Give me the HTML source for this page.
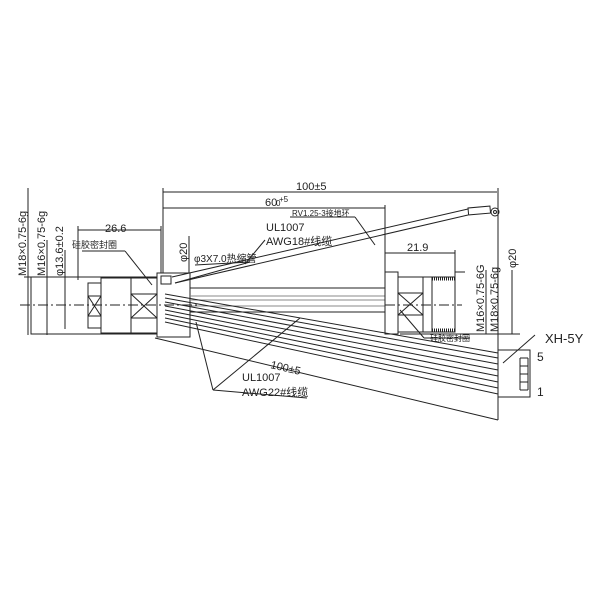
<!DOCTYPE html>
<html><head><meta charset="utf-8"><style>
body{margin:0;background:#fff}
svg{display:block}
text{font-family:"Liberation Sans","Noto Sans CJK SC",sans-serif;fill:#222}
</style></head><body>
<svg width="600" height="600" viewBox="0 0 600 600" xmlns="http://www.w3.org/2000/svg">
<g stroke="#222" stroke-width="1" fill="none">
<!-- left connector body -->
<rect x="31" y="277" width="126" height="57"/>
<line x1="47" y1="277" x2="47" y2="334"/>
<line x1="65" y1="282" x2="65" y2="329"/>
<rect x="88" y="283" width="13" height="45"/>
<line x1="88" y1="296" x2="101" y2="296"/><line x1="88" y1="316" x2="101" y2="316"/>
<line x1="88" y1="296" x2="101" y2="316"/><line x1="101" y1="296" x2="88" y2="316"/>
<rect x="101" y="278" width="30" height="55"/>
<rect x="131" y="278" width="26" height="55"/>
<line x1="131" y1="294" x2="157" y2="294"/><line x1="131" y1="318" x2="157" y2="318"/>
<line x1="131" y1="294" x2="157" y2="318"/><line x1="157" y1="294" x2="131" y2="318"/>
<rect x="157" y="273" width="33" height="64"/>
<line x1="20" y1="305" x2="200" y2="305" stroke-dasharray="10,3,2,3"/>
<rect x="161" y="276" width="10" height="8"/>
<!-- left dims -->
<line x1="28" y1="188" x2="28" y2="335"/>
<line x1="47" y1="240" x2="47" y2="335"/>
<line x1="65" y1="250" x2="65" y2="329"/>
<line x1="24" y1="277" x2="40" y2="277"/>
<line x1="78" y1="226" x2="78" y2="280"/>
<line x1="78" y1="230" x2="161" y2="230"/>
<line x1="161" y1="226" x2="161" y2="273"/>
<line x1="82" y1="251" x2="125" y2="251"/><line x1="125" y1="251" x2="152" y2="285"/>
<line x1="189" y1="236" x2="189" y2="273"/>
<!-- top dims -->
<line x1="163" y1="188" x2="163" y2="273"/>
<line x1="163" y1="192" x2="497" y2="192"/>
<line x1="163" y1="208" x2="385" y2="208"/>
<line x1="385" y1="205" x2="385" y2="272"/>
<line x1="498" y1="188" x2="498" y2="420"/>
<!-- top cable -->
<line x1="172" y1="277" x2="468" y2="209"/>
<line x1="175" y1="283" x2="468" y2="215"/>
<rect x="468" y="208" width="22" height="7" transform="rotate(-5 468 208)"/>
<circle cx="495" cy="212" r="4"/><circle cx="495" cy="212" r="1.5"/>
<line x1="195" y1="265" x2="250" y2="262"/><line x1="250" y1="262" x2="175" y2="283"/>
<line x1="265" y1="240" x2="245" y2="264"/>
<line x1="290" y1="217" x2="355" y2="217"/><line x1="355" y1="217" x2="375" y2="245"/>
<!-- bundle -->
<line x1="190" y1="288" x2="385" y2="288"/>
<line x1="190" y1="312" x2="385" y2="312"/>
<line x1="190" y1="296" x2="385" y2="296" stroke="#888"/>
<line x1="190" y1="300" x2="385" y2="300" stroke="#888"/>
<line x1="190" y1="306" x2="385" y2="306" stroke="#888"/>
<!-- lower wires -->
<line x1="165" y1="294" x2="498" y2="353"/>
<line x1="165" y1="298" x2="498" y2="358"/>
<line x1="165" y1="302" x2="498" y2="364"/>
<line x1="165" y1="306" x2="498" y2="370"/>
<line x1="165" y1="310" x2="498" y2="376"/>
<line x1="165" y1="314" x2="498" y2="382"/>
<line x1="165" y1="318" x2="498" y2="388"/>
<line x1="165" y1="322" x2="498" y2="394"/>
<line x1="155" y1="338" x2="498" y2="420"/>
<line x1="213" y1="390" x2="300" y2="318"/>
<line x1="213" y1="390" x2="196" y2="322"/>
<line x1="213" y1="390" x2="307" y2="398"/>
<!-- right connector -->
<rect x="385" y="272" width="13" height="62"/>
<rect x="398" y="277" width="25" height="55"/>
<line x1="398" y1="293" x2="423" y2="293"/><line x1="398" y1="315" x2="423" y2="315"/>
<line x1="398" y1="293" x2="423" y2="315"/><line x1="423" y1="293" x2="398" y2="315"/>
<rect x="423" y="277" width="9" height="55"/>
<rect x="432" y="277" width="23" height="55"/>
<line x1="432" y1="279" x2="455" y2="279" stroke-width="3" stroke-dasharray="1,1"/>
<line x1="432" y1="330" x2="455" y2="330" stroke-width="3" stroke-dasharray="1,1"/>
<line x1="385" y1="305" x2="462" y2="305" stroke-dasharray="10,3,2,3"/>
<line x1="385" y1="253" x2="455" y2="253"/><line x1="455" y1="250" x2="455" y2="277"/>
<line x1="455" y1="272" x2="465" y2="272"/>
<line x1="400" y1="334" x2="520" y2="334"/>
<line x1="486" y1="270" x2="486" y2="334"/>
<line x1="512" y1="270" x2="512" y2="334"/>
<line x1="400" y1="310" x2="424" y2="338"/><line x1="424" y1="338" x2="470" y2="338"/>
<!-- XH box -->
<rect x="498" y="350" width="32" height="47"/>
<line x1="520" y1="358" x2="528" y2="358"/><line x1="520" y1="366" x2="528" y2="366"/>
<line x1="520" y1="374" x2="528" y2="374"/><line x1="520" y1="382" x2="528" y2="382"/>
<line x1="520" y1="390" x2="528" y2="390"/>
<line x1="520" y1="358" x2="520" y2="390"/><line x1="528" y1="358" x2="528" y2="390"/>
<line x1="503" y1="363" x2="535" y2="335"/>
</g>
<g font-size="11">
<text x="296" y="190">100±5</text>
<text x="265" y="206">60</text><text x="279" y="202" font-size="8">+5</text><text x="276" y="206" font-size="8">0</text>
<text x="292" y="216" font-size="8">RV1.25-3接地环</text>
<text x="266" y="231">UL1007</text>
<text x="266" y="245">AWG18#线缆</text>
<text x="194" y="262" font-size="10">φ3X7.0热缩管</text>
<text x="105" y="232">26.6</text>
<text x="72" y="248" font-size="9">硅胶密封圈</text>
<text x="407" y="251">21.9</text>
<text x="430" y="341" font-size="8">硅胶密封圈</text>
<text x="242" y="381">UL1007</text>
<text x="242" y="396">AWG22#线缆</text>
<text x="270" y="368" transform="rotate(13 270 368)">100±5</text>
<text x="545" y="343" font-size="13">XH-5Y</text>
<text x="537" y="361" font-size="12">5</text>
<text x="537" y="396" font-size="12">1</text>
<text transform="translate(26 276) rotate(-90)">M18×0.75-6g</text>
<text transform="translate(45 276) rotate(-90)">M16×0.75-6g</text>
<text transform="translate(63 276) rotate(-90)">φ13.6±0.2</text>
<text transform="translate(187 262) rotate(-90)">φ20</text>
<text transform="translate(484 332) rotate(-90)">M16×0.75-6G</text>
<text transform="translate(498 332) rotate(-90)">M18×0.75-6g</text>
<text transform="translate(516 268) rotate(-90)">φ20</text>
</g>
</svg>
</body></html>
